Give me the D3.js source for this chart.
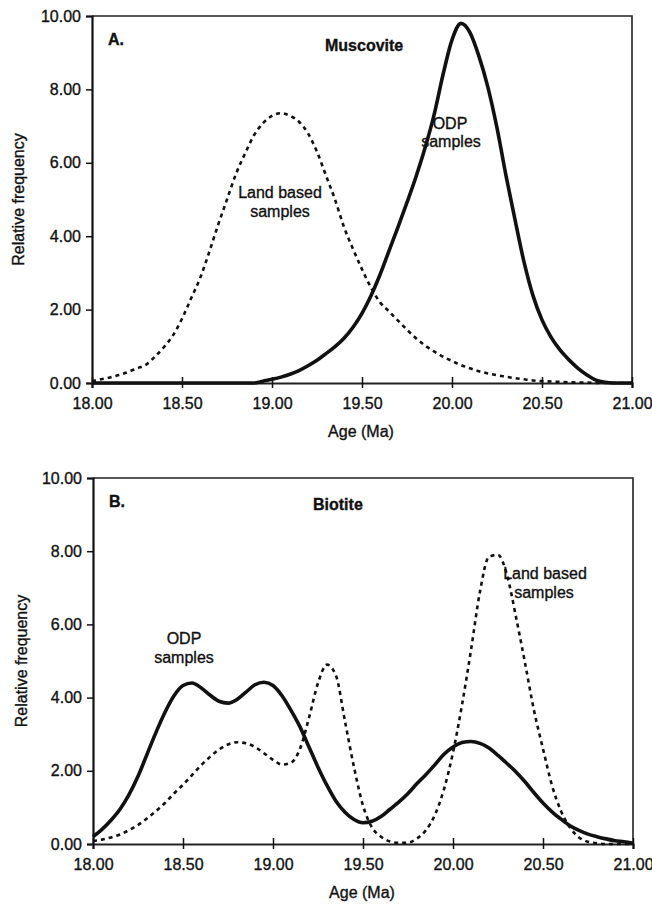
<!DOCTYPE html>
<html>
<head>
<meta charset="utf-8">
<script src="https://cdn.jsdelivr.net/npm/d3@7"></script>
<style>
  body { margin: 0; background: #fff; }
  svg text { font-family: "Liberation Sans", Arial, Helvetica, sans-serif; fill: #111; stroke: #111; stroke-width: 0.35px; }
</style>
</head>
<body>
<svg id="chart" width="652" height="905"></svg>
<script>
// age grid (Ma)
const ages = [18.00, 18.05, 18.10, 18.15, 18.20, 18.25, 18.30, 18.35, 18.40, 18.45,
    18.50, 18.55, 18.60, 18.65, 18.70, 18.75, 18.80, 18.85, 18.90, 18.95,
    19.00, 19.05, 19.10, 19.15, 19.20, 19.25, 19.30, 19.35, 19.40, 19.45,
    19.50, 19.55, 19.60, 19.65, 19.70, 19.75, 19.80, 19.85, 19.90, 19.95,
    20.00, 20.05, 20.10, 20.15, 20.20, 20.25, 20.30, 20.35, 20.40, 20.45,
    20.50, 20.55, 20.60, 20.65, 20.70, 20.75, 20.80, 20.85, 20.90, 20.95, 21.00];

// A. Muscovite
const muscoviteLand = [0.05, 0.1, 0.15, 0.22, 0.3, 0.4, 0.5, 0.72, 0.98, 1.3,
    1.75, 2.3, 2.85, 3.55, 4.3, 5.0, 5.7, 6.25, 6.75, 7.08,
    7.28, 7.35, 7.28, 7.12, 6.8, 6.3, 5.65, 5.0, 4.25, 3.65,
    3.1, 2.6, 2.2, 1.95, 1.7, 1.45, 1.22, 1.02, 0.86, 0.72,
    0.6, 0.49, 0.4, 0.32, 0.26, 0.21, 0.17, 0.13, 0.1, 0.07,
    0.05, 0.04, 0.03, 0.02, 0.01, 0.01, 0, 0, 0, 0, 0];
const muscoviteODP = [0, 0, 0, 0, 0, 0, 0, 0, 0, 0,
    0, 0, 0, 0, 0, 0, 0, 0, 0, 0.05,
    0.1, 0.16, 0.24, 0.34, 0.47, 0.62, 0.8, 0.99, 1.22, 1.52,
    1.9, 2.38, 2.95, 3.6, 4.25, 4.92, 5.62, 6.4, 7.3, 8.4,
    9.35, 9.8, 9.55, 8.9, 8.05, 6.95, 5.65, 4.45, 3.3, 2.38,
    1.72, 1.25, 0.9, 0.63, 0.4, 0.22, 0.08, 0.02, 0, 0, 0];

// B. Biotite
const biotiteODP = [0.2, 0.4, 0.65, 0.95, 1.35, 1.85, 2.45, 3.05, 3.6, 4.05,
    4.33, 4.4, 4.27, 4.07, 3.9, 3.85, 3.95, 4.15, 4.35, 4.42,
    4.33, 4.05, 3.65, 3.2, 2.65, 2.1, 1.6, 1.17, 0.87, 0.67,
    0.58, 0.62, 0.75, 0.95, 1.15, 1.38, 1.65, 1.9, 2.17, 2.45,
    2.65, 2.77, 2.8, 2.75, 2.62, 2.42, 2.2, 1.97, 1.7, 1.4,
    1.12, 0.88, 0.68, 0.5, 0.37, 0.27, 0.2, 0.14, 0.09, 0.06, 0.02];
const biotiteLand = [0.08, 0.12, 0.18, 0.26, 0.38, 0.52, 0.7, 0.9, 1.12, 1.38,
    1.62, 1.88, 2.15, 2.38, 2.58, 2.72, 2.78, 2.75, 2.65, 2.48,
    2.3, 2.17, 2.22, 2.6, 3.45, 4.4, 4.9, 4.6, 3.35, 2.1,
    1.05, 0.45, 0.2, 0.07, 0.03, 0.04, 0.15, 0.38, 0.8, 1.5,
    2.5, 3.8, 5.3, 6.9, 7.85, 7.9, 7.35, 6.2, 4.95, 3.65,
    2.6, 1.6, 0.9, 0.45, 0.18, 0.06, 0.02, 0, 0, 0, 0];

const xTicks = [18, 18.5, 19, 19.5, 20, 20.5, 21];
const yTicks = [0, 2, 4, 6, 8, 10];

const svg = d3.select("#chart");

function drawPanel(p) {
    const x = d3.scaleLinear().domain([18, 21]).range([p.left, p.right]);
    const y = d3.scaleLinear().domain([0, 10]).range([p.bottom, p.top]);
    const g = svg.append("g");

    // frame (top + right)
    g.append("path")
        .attr("d", `M${p.left},${p.top}H${p.right}V${p.bottom}`)
        .attr("fill", "none")
        .attr("stroke", "#222")
        .attr("stroke-width", 1.6);

    // y axis
    const ya = g.append("g")
        .attr("transform", `translate(${p.left},0)`)
        .call(d3.axisLeft(y).tickValues(yTicks).tickFormat(d3.format(".2f")).tickSize(6).tickPadding(5));
    ya.select(".domain").attr("stroke", "#111").attr("stroke-width", 2.2);
    ya.selectAll(".tick line").attr("stroke", "#111").attr("stroke-width", 1.5);
    ya.selectAll(".tick text").style("font-size", "16px").attr("fill", "#111");

    // x axis, ticks cross the line
    const xa = g.append("g")
        .attr("transform", `translate(0,${p.bottom})`)
        .call(d3.axisBottom(x).tickValues(xTicks).tickFormat(d3.format(".2f")).tickSize(5).tickPadding(10));
    xa.select(".domain").attr("stroke", "#222").attr("stroke-width", 2.2);
    xa.selectAll(".tick line").attr("y1", -6).attr("stroke", "#111").attr("stroke-width", 1.5);
    xa.selectAll(".tick text").style("font-size", "16px").attr("fill", "#111");

    // axis titles
    g.append("text")
        .attr("x", (p.left + p.right) / 2 - 1)
        .attr("y", p.bottom + 54)
        .attr("text-anchor", "middle")
        .style("font-size", "16px")
        .text("Age (Ma)");
    g.append("text")
        .attr("transform", `translate(${p.yTitleX},${(p.top + p.bottom) / 2}) rotate(-90)`)
        .attr("text-anchor", "middle")
        .style("font-size", "16px")
        .text("Relative frequency");

    const line = d3.line()
        .x((d, i) => x(ages[i]))
        .y(d => y(d))
        .curve(d3.curveMonotoneX);

    // dashed = land based, solid = ODP
    g.append("path")
        .datum(p.land)
        .attr("d", line)
        .attr("fill", "none")
        .attr("stroke", "#111")
        .attr("stroke-width", 2.6)
        .attr("stroke-dasharray", "4,4");
    g.append("path")
        .datum(p.odp)
        .attr("d", line)
        .attr("fill", "none")
        .attr("stroke", "#111")
        .attr("stroke-width", 3.6)
        .attr("stroke-linejoin", "round");

    // labels
    g.append("text")
        .attr("x", p.left + 16).attr("y", p.top + 29)
        .style("font-size", "16px").style("font-weight", "bold")
        .text(p.letter);
    g.append("text")
        .attr("x", p.titleX).attr("y", p.titleY)
        .style("font-size", "16px").style("font-weight", "bold")
        .text(p.title);

    p.notes.forEach(n => {
        g.append("text")
            .attr("x", n.x).attr("y", n.y)
            .attr("text-anchor", "middle")
            .style("font-size", "16px")
            .text(n.text);
    });
}

drawPanel({
    left: 92, right: 632, top: 16, bottom: 383, yTitleX: 24,
    land: muscoviteLand, odp: muscoviteODP,
    letter: "A.", title: "Muscovite", titleX: 325, titleY: 51,
    notes: [
        { text: "ODP", x: 450, y: 129 },
        { text: "samples", x: 451, y: 147 },
        { text: "Land based", x: 280, y: 198 },
        { text: "samples", x: 280, y: 217 }
    ]
});

drawPanel({
    left: 93, right: 633, top: 478, bottom: 844, yTitleX: 27,
    land: biotiteLand, odp: biotiteODP,
    letter: "B.", title: "Biotite", titleX: 313, titleY: 510,
    notes: [
        { text: "ODP", x: 184, y: 644 },
        { text: "samples", x: 184, y: 663 },
        { text: "Land based", x: 545, y: 579 },
        { text: "samples", x: 544, y: 598 }
    ]
});
</script>
</body>
</html>
